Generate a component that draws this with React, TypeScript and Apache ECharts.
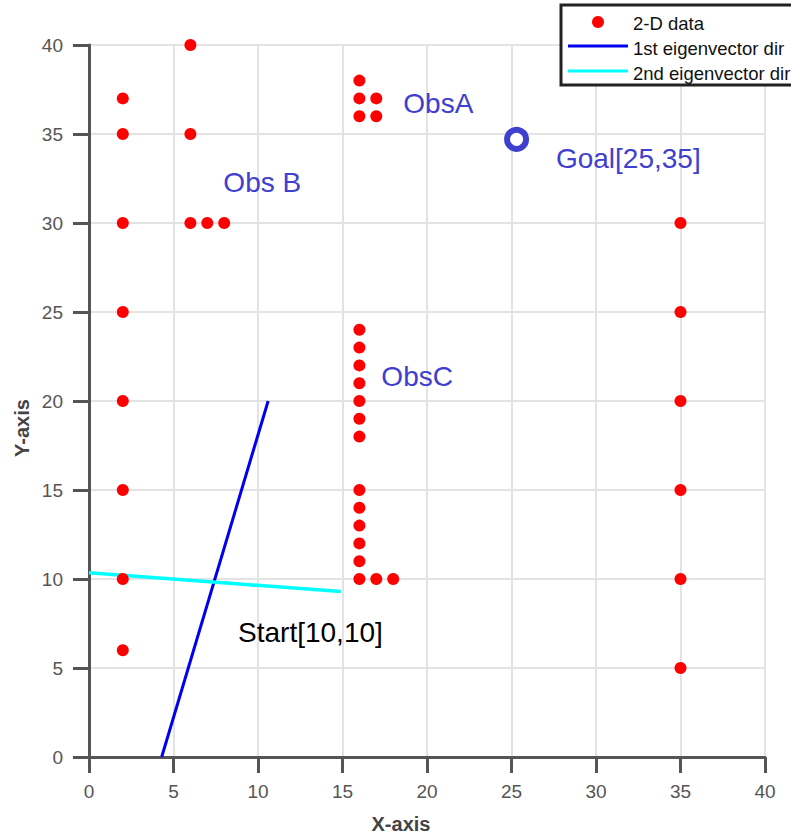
import React, { useEffect, useRef } from "react";
import * as echarts from "echarts";

const xTicks = [0, 5, 10, 15, 20, 25, 30, 35, 40];
const yTicks = [0, 5, 10, 15, 20, 25, 30, 35, 40];

const dataX = [
  2, 2, 2, 2, 2, 2, 2, 2,
  6, 6, 6, 7, 8,
  16, 16, 16, 17, 17,
  16, 16, 16, 16, 16, 16, 16, 16, 16, 16, 16, 16, 16, 17, 18,
  35, 35, 35, 35, 35, 35,
];
const dataY = [
  37, 35, 30, 25, 20, 15, 10, 6,
  40, 35, 30, 30, 30,
  38, 37, 36, 37, 36,
  24, 23, 22, 21, 20, 19, 18, 15, 14, 13, 12, 11, 10, 10, 10,
  30, 25, 20, 15, 10, 5,
];

const eig1X = [4.3, 10.6];
const eig1Y = [0, 20];
const eig2X = [0, 14.9];
const eig2Y = [10.35, 9.3];

const goal = [25.3, 34.7];

const labelText = ["ObsA", "Obs B", "ObsC", "Goal[25,35]", "Start[10,10]"];
const labelX = [18.6, 7.95, 17.3, 27.63, 8.82];
const labelY = [36.7, 32.3, 21.4, 33.6, 7.0];
const labelColor = ["#4040d0", "#4040d0", "#4040d0", "#4040d0", "#000000"];

const legendNames = ["2-D data", "1st eigenvector dir", "2nd eigenvector dir"];
const axisNames = ["X-axis", "Y-axis"];

export default function App() {
  const ref = useRef<HTMLDivElement>(null);
  useEffect(() => {
    if (!ref.current) return;
    const chart = echarts.init(ref.current, undefined, { renderer: "svg" });
    const font = "Arial";
    const axisCommon = {
      type: "value",
      interval: 5,
      axisLine: { show: true, onZero: false, lineStyle: { color: "#555", width: 3 } },
      axisTick: { show: true, inside: false, length: 16, lineStyle: { color: "#555", width: 3 } },
      axisLabel: { fontFamily: font, fontSize: 19, color: "#555" },
      splitLine: { show: true, lineStyle: { color: "#e3e3e3", width: 2 } },
    };
    const legendText = (i: number, y: number) => ({
      type: "text",
      z: 101,
      x: 633,
      y,
      style: { text: legendNames[i], fontFamily: font, fontSize: 18.5, fill: "#111", verticalAlign: "middle" },
    });
    chart.setOption({
      animation: false,
      backgroundColor: "#ffffff",
      textStyle: { fontFamily: font },
      grid: { left: 89, top: 45, right: 26, bottom: 82 },
      xAxis: {
        ...axisCommon,
        min: xTicks[0],
        max: xTicks[xTicks.length - 1],
        axisLabel: { ...axisCommon.axisLabel, margin: 25 },
      },
      yAxis: {
        ...axisCommon,
        min: yTicks[0],
        max: yTicks[yTicks.length - 1],
        axisLabel: { ...axisCommon.axisLabel, margin: 26 },
      },
      series: [
        {
          type: "scatter",
          name: legendNames[0],
          symbol: "circle",
          symbolSize: 12,
          itemStyle: { color: "#ff0000", opacity: 1 },
          data: dataX.map((x, i) => [x, dataY[i]]),
          z: 5,
        },
        {
          type: "line",
          name: legendNames[1],
          data: eig1X.map((x, i) => [x, eig1Y[i]]),
          symbol: "none",
          lineStyle: { color: "#0000ee", width: 3 },
          z: 4,
        },
        {
          type: "line",
          name: legendNames[2],
          data: eig2X.map((x, i) => [x, eig2Y[i]]),
          symbol: "none",
          lineStyle: { color: "#00ffff", width: 3.5 },
          z: 4,
        },
        {
          type: "scatter",
          symbol: "circle",
          symbolSize: 19,
          itemStyle: { color: "#ffffff", borderColor: "#4040d0", borderWidth: 6, opacity: 1 },
          data: [goal],
          z: 6,
        },
        {
          type: "scatter",
          symbolSize: 0,
          silent: true,
          itemStyle: { color: "transparent", opacity: 1 },
          data: labelText.map((t, i) => ({
            value: [labelX[i], labelY[i]],
            name: t,
            label: {
              show: true,
              formatter: t,
              position: [0, 0],
              align: "left",
              verticalAlign: "middle",
              fontFamily: font,
              fontSize: 28,
              color: labelColor[i],
              textBorderWidth: 0,
              textBorderColor: "transparent",
            },
          })),
          z: 7,
        },
      ],
      graphic: [
        {
          type: "text",
          z: 50,
          x: 401,
          y: 824,
          style: {
            text: axisNames[0],
            fontFamily: font,
            fontSize: 20,
            fontWeight: "bold",
            fill: "#444",
            align: "center",
            verticalAlign: "middle",
          },
        },
        {
          type: "text",
          z: 50,
          x: 22,
          y: 428,
          rotation: Math.PI / 2,
          style: {
            text: axisNames[1],
            fontFamily: font,
            fontSize: 20,
            fontWeight: "bold",
            fill: "#444",
            align: "center",
            verticalAlign: "middle",
          },
        },
        {
          type: "rect",
          z: 100,
          shape: { x: 561, y: 5, width: 260, height: 80 },
          style: { fill: "#ffffff", stroke: "#222222", lineWidth: 3 },
        },
        { type: "circle", z: 101, shape: { cx: 598, cy: 22, r: 6 }, style: { fill: "#ff0000" } },
        legendText(0, 23),
        {
          type: "line",
          z: 101,
          shape: { x1: 568, y1: 46, x2: 628, y2: 46 },
          style: { stroke: "#0000ee", lineWidth: 3 },
        },
        legendText(1, 48),
        {
          type: "line",
          z: 101,
          shape: { x1: 568, y1: 71, x2: 628, y2: 71 },
          style: { stroke: "#00ffff", lineWidth: 3 },
        },
        legendText(2, 73),
      ],
    });
    return () => chart.dispose();
  }, []);
  return <div ref={ref} style={{ width: 791, height: 839, position: "absolute", left: 0, top: 0 }} />;
}
